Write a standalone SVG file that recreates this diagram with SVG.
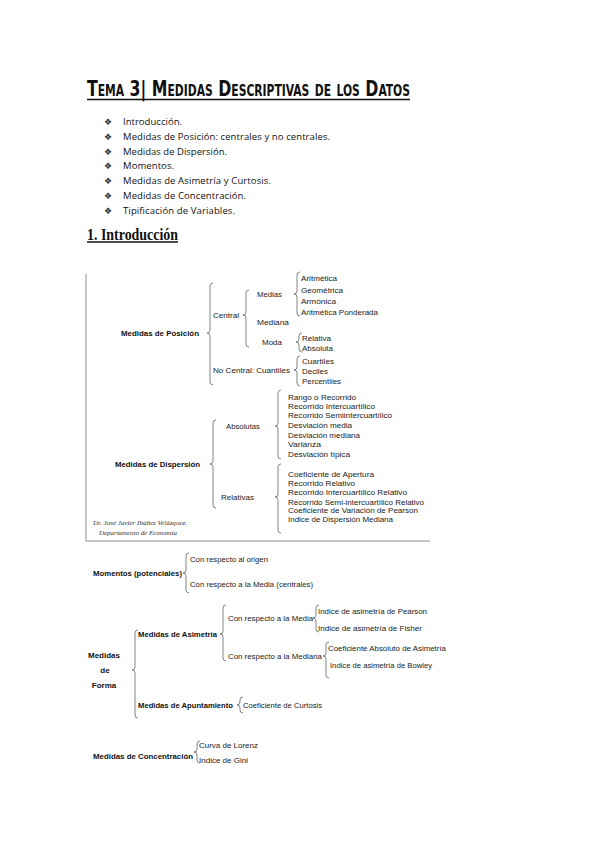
<svg xmlns="http://www.w3.org/2000/svg" width="599" height="848" viewBox="0 0 599 848">
<style>
text{font-family:"Liberation Sans",Arial,sans-serif;fill:#1a1a1a}
.t{font-family:"DejaVu Sans Condensed","DejaVu Sans",sans-serif;font-weight:bold;font-variant:small-caps;font-size:22px;fill:#111}
.bl{font-family:"Open Sans","Liberation Sans",sans-serif;font-size:9.5px;fill:#111}
.bs{font-family:"DejaVu Sans",sans-serif;font-size:9px;fill:#333}
.h{font-family:"Liberation Serif","Times New Roman",serif;font-weight:bold;font-size:16px;fill:#111}
.d{font-size:8px;fill:#222}
.db{font-size:8px;font-weight:bold;fill:#111}
.sig{font-family:"Liberation Serif",serif;font-style:italic;font-size:7px;fill:#333}
.br{fill:none;stroke:#666;stroke-width:0.8}
.ul{stroke:#111;stroke-width:1.6}
.frame{stroke:#c8c8c8;stroke-width:2;fill:none}
</style>
<rect width="599" height="848" fill="#fff"/>

<g id="title">
<text class="t" x="87" y="96" textLength="323" lengthAdjust="spacingAndGlyphs">Tema 3| Medidas Descriptivas de los Datos</text>
<line class="ul" x1="87" y1="99.5" x2="410" y2="99.5"/>
</g>

<g id="index">
<text class="bs" x="104" y="125">❖</text><text class="bl" x="123" y="125" textLength="59" lengthAdjust="spacing">Introducción.</text>
<text class="bs" x="104" y="140">❖</text><text class="bl" x="123" y="140" textLength="207" lengthAdjust="spacing">Medidas de Posición: centrales y no centrales.</text>
<text class="bs" x="104" y="155">❖</text><text class="bl" x="123" y="155" textLength="104" lengthAdjust="spacing">Medidas de Dispersión.</text>
<text class="bs" x="104" y="169">❖</text><text class="bl" x="123" y="169" textLength="51" lengthAdjust="spacing">Momentos.</text>
<text class="bs" x="104" y="184">❖</text><text class="bl" x="123" y="184" textLength="148" lengthAdjust="spacing">Medidas de Asimetría y Curtosis.</text>
<text class="bs" x="104" y="199">❖</text><text class="bl" x="123" y="199" textLength="123" lengthAdjust="spacing">Medidas de Concentración.</text>
<text class="bs" x="104" y="214">❖</text><text class="bl" x="123" y="214" textLength="112" lengthAdjust="spacing">Tipificación de Variables.</text>
</g>

<g id="heading">
<text class="h" x="87" y="240" textLength="91" lengthAdjust="spacingAndGlyphs">1. Introducción</text>
<line class="ul" x1="87" y1="242" x2="178" y2="242" stroke-width="1"/>
</g>

<g id="frame">
<path class="frame" d="M86,274 V541 H430"/>
</g>

<g id="connectors">
<!-- posicion -->
<path class="br" d="M213,283 Q210,283 210,286 V330 Q210,333 207,333 Q210,333 210,336 V382 Q210,385 213,385"/>
<path class="br" d="M249,290 Q246,290 246,293 V312 Q246,315 243,315 Q246,315 246,318 V344 Q246,347 249,347"/>
<path class="br" d="M300,272 Q297,272 297,275 V291 Q297,294 294,294 Q297,294 297,297 V313 Q297,316 300,316"/>
<path class="br" d="M302,333 Q299,333 299,336 V339 Q299,342 296,342 Q299,342 299,345 V349 Q299,352 302,352"/>
<path class="br" d="M300,356 Q297,356 297,359 V367 Q297,370 294,370 Q297,370 297,373 V383 Q297,386 300,386"/>
<!-- dispersion -->
<path class="br" d="M216,420 Q213,420 213,423 V461 Q213,464 210,464 Q213,464 213,467 V505 Q213,508 216,508"/>
<path class="br" d="M281,390 Q278,390 278,393 V423 Q278,426 275,426 Q278,426 278,429 V456 Q278,459 281,459"/>
<path class="br" d="M281,464 Q278,464 278,467 V494 Q278,497 275,497 Q278,497 278,500 V530 Q278,533 281,533"/>
<!-- momentos -->
<path class="br" d="M189,553 Q186,553 186,556 V570 Q186,573 183,573 Q186,573 186,576 V590 Q186,593 189,593"/>
<!-- forma -->
<path class="br" d="M138,630 Q135,630 135,633 V667 Q135,670 132,670 Q135,670 135,673 V715 Q135,718 138,718"/>
<path class="br" d="M226,605 Q223,605 223,608 V631 Q223,634 220,634 Q223,634 223,637 V658 Q223,661 226,661"/>
<path class="br" d="M319,605 Q316,605 316,608 V615 Q316,618 313,618 Q316,618 316,621 V629 Q316,632 319,632"/>
<path class="br" d="M329,642 Q326,642 326,645 V653 Q326,656 323,656 Q326,656 326,659 V675 Q326,678 329,678"/>
<path class="br" d="M243,697 Q240,697 240,700 V702 Q240,705 237,705 Q240,705 240,708 V710 Q240,713 243,713"/>
<!-- concentracion -->
<path class="br" d="M200,741 Q197,741 197,744 V749 Q197,752 194,752 Q197,752 197,755 V760 Q197,763 200,763"/>
</g>

<g id="posicion">
<text class="db" x="121" y="336" textLength="78" lengthAdjust="spacingAndGlyphs">Medidas de Posición</text>
<text class="d" x="213" y="318" textLength="26" lengthAdjust="spacingAndGlyphs">Central</text>
<text class="d" x="257" y="297" textLength="25" lengthAdjust="spacingAndGlyphs">Medias</text>
<text class="d" x="301" y="281" textLength="36" lengthAdjust="spacingAndGlyphs">Aritmética</text>
<text class="d" x="301" y="293" textLength="42" lengthAdjust="spacingAndGlyphs">Geométrica</text>
<text class="d" x="301" y="304" textLength="35" lengthAdjust="spacingAndGlyphs">Armónica</text>
<text class="d" x="301" y="315" textLength="77" lengthAdjust="spacingAndGlyphs">Aritmética Ponderada</text>
<text class="d" x="257" y="325" textLength="32" lengthAdjust="spacingAndGlyphs">Mediana</text>
<text class="d" x="262" y="345" textLength="20" lengthAdjust="spacingAndGlyphs">Moda</text>
<text class="d" x="302" y="341" textLength="29" lengthAdjust="spacingAndGlyphs">Relativa</text>
<text class="d" x="302" y="351" textLength="31" lengthAdjust="spacingAndGlyphs">Absoluta</text>
<text class="d" x="213" y="373" textLength="77" lengthAdjust="spacingAndGlyphs">No Central: Cuantiles</text>
<text class="d" x="302" y="364" textLength="32" lengthAdjust="spacingAndGlyphs">Cuartiles</text>
<text class="d" x="302" y="374" textLength="26" lengthAdjust="spacingAndGlyphs">Deciles</text>
<text class="d" x="302" y="384" textLength="39" lengthAdjust="spacingAndGlyphs">Percentiles</text>
</g>

<g id="dispersion">
<text class="db" x="115" y="467" textLength="85" lengthAdjust="spacingAndGlyphs">Medidas de Dispersión</text>
<text class="d" x="226" y="429" textLength="34" lengthAdjust="spacingAndGlyphs">Absolutas</text>
<text class="d" x="221" y="500" textLength="33" lengthAdjust="spacingAndGlyphs">Relativas</text>
<text class="d" x="288" y="400" textLength="68" lengthAdjust="spacingAndGlyphs">Rango o Recorrido</text>
<text class="d" x="288" y="409" textLength="87" lengthAdjust="spacingAndGlyphs">Recorrido Intercuartílico</text>
<text class="d" x="288" y="418" textLength="104" lengthAdjust="spacingAndGlyphs">Recorrido Semiintercuartílico</text>
<text class="d" x="288" y="428" textLength="64" lengthAdjust="spacingAndGlyphs">Desviación media</text>
<text class="d" x="288" y="438" textLength="72" lengthAdjust="spacingAndGlyphs">Desviación mediana</text>
<text class="d" x="288" y="447" textLength="33" lengthAdjust="spacingAndGlyphs">Varianza</text>
<text class="d" x="288" y="457" textLength="62" lengthAdjust="spacingAndGlyphs">Desviación típica</text>
<text class="d" x="288" y="477" textLength="86" lengthAdjust="spacingAndGlyphs">Coeficiente de Apertura</text>
<text class="d" x="288" y="486" textLength="67" lengthAdjust="spacingAndGlyphs">Recorrido Relativo</text>
<text class="d" x="288" y="495" textLength="119" lengthAdjust="spacingAndGlyphs">Recorrido Intercuartílico Relativo</text>
<text class="d" x="288" y="505" textLength="136" lengthAdjust="spacingAndGlyphs">Recorrido Semi-intercuartílico Relativo</text>
<text class="d" x="288" y="513" textLength="130" lengthAdjust="spacingAndGlyphs">Coeficiente de Variación de Pearson</text>
<text class="d" x="288" y="522" textLength="105" lengthAdjust="spacingAndGlyphs">Indice de Dispersión Mediana</text>
<text class="sig" x="93" y="525" textLength="94" lengthAdjust="spacingAndGlyphs">Dr. José Javier Ibáñez Velázquez.</text>
<text class="sig" x="99" y="535" textLength="78" lengthAdjust="spacingAndGlyphs">Departamento de Economía</text>
</g>

<g id="momentos">
<text class="db" x="93" y="576" textLength="89" lengthAdjust="spacingAndGlyphs">Momentos (potenciales)</text>
<text class="d" x="190" y="562" textLength="78" lengthAdjust="spacingAndGlyphs">Con respecto al origen</text>
<text class="d" x="190" y="587" textLength="123" lengthAdjust="spacingAndGlyphs">Con respecto a la Media (centrales)</text>
</g>

<g id="forma">
<text class="db" x="104" y="658" text-anchor="middle">Medidas</text>
<text class="db" x="105" y="673" text-anchor="middle">de</text>
<text class="db" x="104" y="688" text-anchor="middle">Forma</text>
<text class="db" x="138" y="637" textLength="79" lengthAdjust="spacingAndGlyphs">Medidas de Asimetría</text>
<text class="d" x="228" y="621" textLength="85" lengthAdjust="spacingAndGlyphs">Con respecto a la Media</text>
<text class="d" x="318" y="614" textLength="109" lengthAdjust="spacingAndGlyphs">Indice de asimetría de Pearson</text>
<text class="d" x="318" y="631" textLength="104" lengthAdjust="spacingAndGlyphs">Indice de asimetría de Fisher</text>
<text class="d" x="228" y="659" textLength="94" lengthAdjust="spacingAndGlyphs">Con respecto a la Mediana</text>
<text class="d" x="328" y="651" textLength="118" lengthAdjust="spacingAndGlyphs">Coeficiente Absoluto de Asimetría</text>
<text class="d" x="330" y="668" textLength="102" lengthAdjust="spacingAndGlyphs">Indice de asimetría de Bowley</text>
<text class="db" x="138" y="708" textLength="95" lengthAdjust="spacingAndGlyphs">Medidas de Apuntamiento</text>
<text class="d" x="243" y="708" textLength="79" lengthAdjust="spacingAndGlyphs">Coeficiente de Curtosis</text>
</g>

<g id="concentracion">
<text class="db" x="93" y="759" textLength="100" lengthAdjust="spacingAndGlyphs">Medidas de Concentración</text>
<text class="d" x="199" y="748" textLength="59" lengthAdjust="spacingAndGlyphs">Curva de Lorenz</text>
<text class="d" x="199" y="763" textLength="49" lengthAdjust="spacingAndGlyphs">Indice de Gini</text>
</g>
</svg>
